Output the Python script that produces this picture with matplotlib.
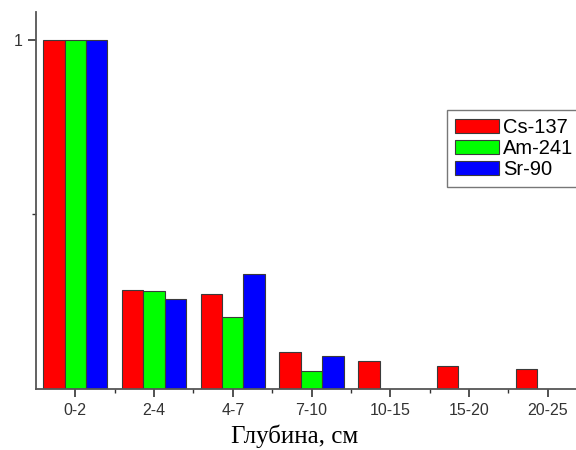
import matplotlib
matplotlib.use("Agg")
import matplotlib.pyplot as plt
import numpy as np

# Depth intervals and relative activity of each radionuclide
depths = ["0-2", "2-4", "4-7", "7-10", "10-15", "15-20", "20-25"]
cs137 = [1.0, 0.285, 0.272, 0.106, 0.081, 0.066, 0.058]
am241 = [1.0, 0.282, 0.205, 0.051, 0.0, 0.0, 0.0]
sr90 = [1.0, 0.258, 0.330, 0.095, 0.0, 0.0, 0.0]

series = [("Cs-137", cs137, "#ff0000"),
          ("Am-241", am241, "#00ff00"),
          ("Sr-90", sr90, "#0000ff")]

fig = plt.figure(figsize=(5.76, 4.5), dpi=100)
ax = fig.add_axes([36 / 576, 61 / 450, 551 / 576, 377 / 450])

x = np.arange(len(depths))
w = 0.272
for i, (name, vals, col) in enumerate(series):
    vals = np.array(vals)
    mask = vals > 0
    ax.bar(x[mask] + (i - 1) * w, vals[mask], width=w, color=col,
           edgecolor="#3a3a3a", linewidth=0.8, label=name)

ax.set_xlim(-0.5, len(depths) - 0.5)
ax.set_ylim(0, 1.08)

for s in ("top", "right"):
    ax.spines[s].set_visible(False)
for s in ("left", "bottom"):
    ax.spines[s].set_color("#555555")
    ax.spines[s].set_linewidth(1.3)

ax.set_xticks(x)
ax.set_xticklabels(depths, fontsize=11.5, family="Liberation Sans", color="#333333")
ax.set_xticks(x[:-1] + 0.5, minor=True)
ax.set_yticks([1])
ax.set_yticklabels(["1"], fontsize=11.5, family="Liberation Sans", color="#333333")
ax.set_yticks([0.5], minor=True)
ax.tick_params(axis="both", which="major", length=6, width=1.2, color="#333333")
ax.tick_params(axis="both", which="minor", length=3, width=1.0, color="#333333")
ax.tick_params(axis="x", which="major", pad=4)

fig.text(295 / 576, 1 - 443 / 450, "Глубина, см", fontsize=18,
         family="Liberation Serif", ha="center", va="baseline")

leg = ax.legend(loc="upper left", bbox_to_anchor=(447 / 576, 1 - 110 / 450),
                bbox_transform=fig.transFigure, borderaxespad=0,
                prop={"family": "Liberation Sans", "size": 14.5},
                handlelength=2.2, handleheight=0.72, handletextpad=0.2,
                labelspacing=0.1, borderpad=0.4, fancybox=False,
                framealpha=1, edgecolor="#777777")
leg.get_frame().set_linewidth(1.0)

fig.savefig("out.png", dpi=100)
